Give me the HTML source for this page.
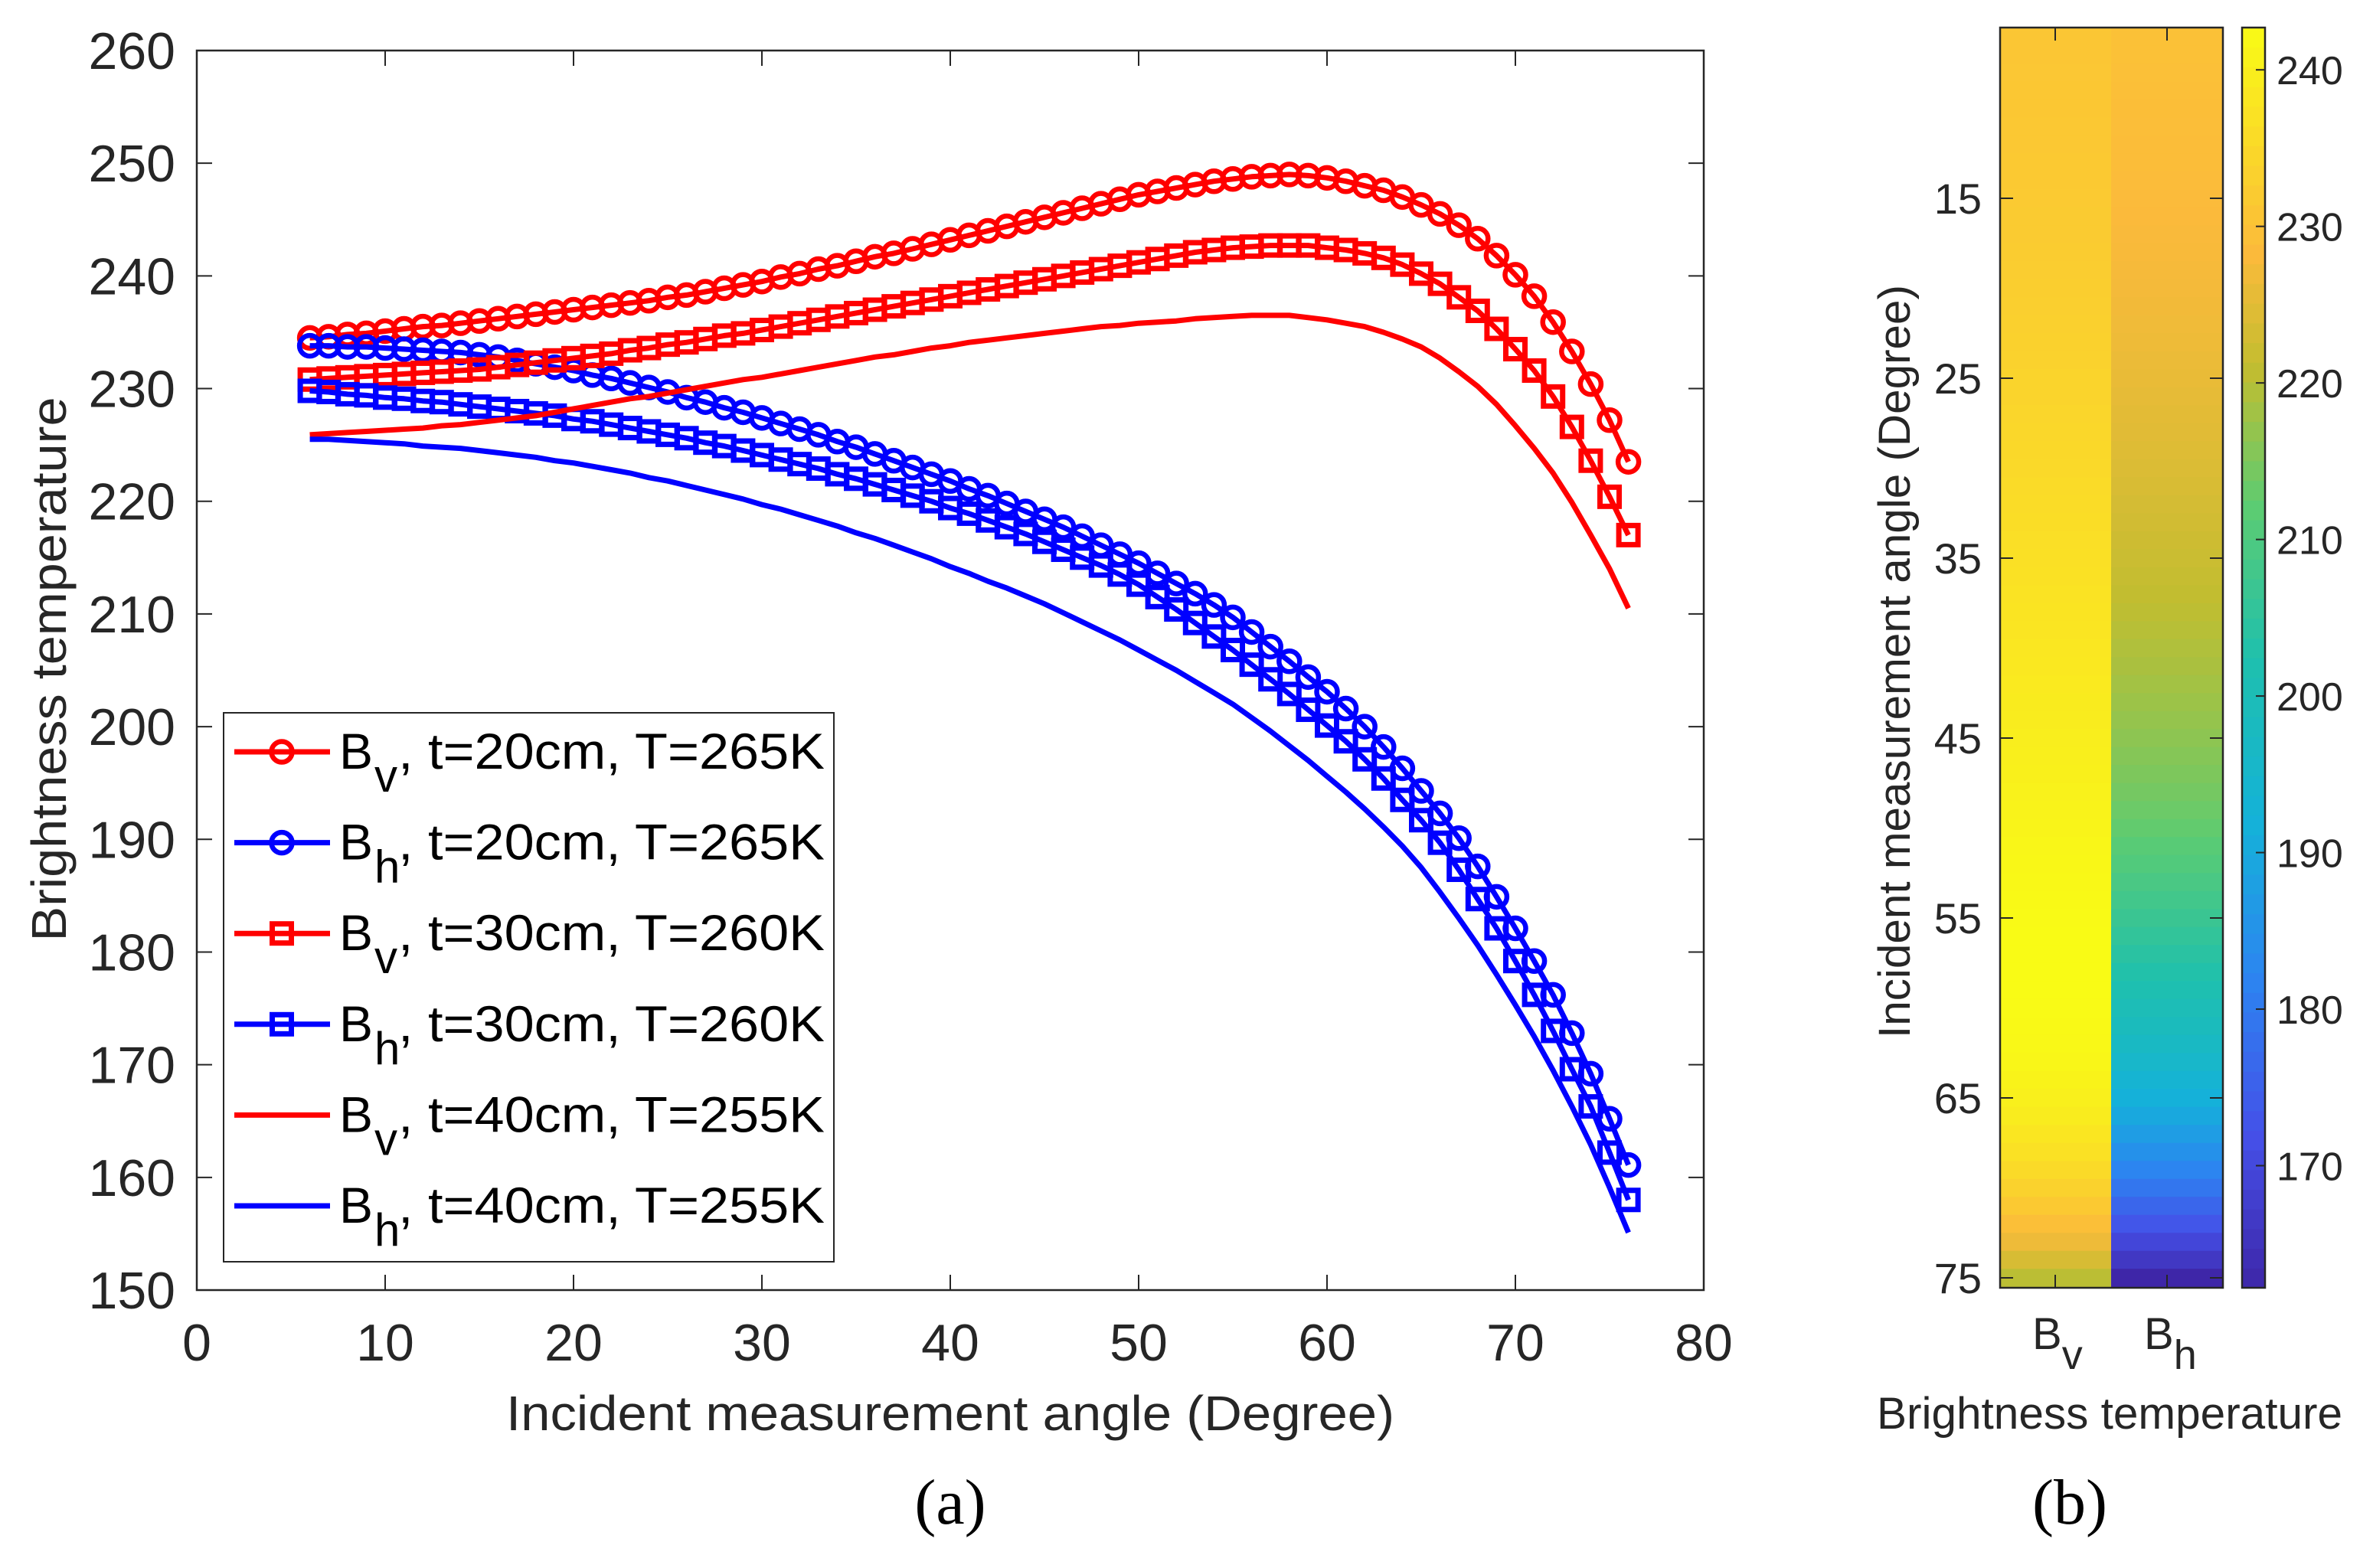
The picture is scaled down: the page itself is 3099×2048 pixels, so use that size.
<!DOCTYPE html>
<html><head><meta charset="utf-8"><style>
html,body{margin:0;padding:0;background:#fff;}
svg{display:block;font-family:"Liberation Sans",Arial,sans-serif;}
</style></head><body>
<svg id="fig" width="3099" height="2048" viewBox="0 0 3099 2048" xmlns="http://www.w3.org/2000/svg">
<rect x="0" y="0" width="3099" height="2048" fill="#fff"/>
<g id="plotA"></g>
<g id="plotB"></g>
</svg>
<script>
const angles = [];
for (let a = 6; a <= 76; a++) angles.push(a);
const bv20 = [234.5,234.6,234.8,234.9,235.1,235.3,235.5,235.6,235.8,236.0,236.2,236.4,236.6,236.8,237.0,237.2,237.4,237.6,237.8,238.1,238.3,238.6,238.9,239.2,239.5,239.9,240.2,240.6,240.9,241.3,241.7,242.0,242.4,242.8,243.2,243.6,244.0,244.4,244.8,245.2,245.6,246.0,246.4,246.8,247.2,247.5,247.8,248.1,248.4,248.6,248.8,248.9,249.0,248.9,248.7,248.4,248.0,247.6,247.0,246.3,245.5,244.5,243.3,241.8,240.1,238.2,235.9,233.3,230.4,227.2,223.5];
const bh20 = [233.8,233.8,233.7,233.7,233.6,233.5,233.4,233.3,233.2,233.0,232.8,232.5,232.2,231.9,231.6,231.2,230.9,230.5,230.1,229.7,229.2,228.8,228.3,227.9,227.4,226.9,226.4,225.9,225.3,224.8,224.2,223.6,223.0,222.4,221.8,221.1,220.5,219.8,219.1,218.4,217.7,216.9,216.1,215.3,214.5,213.6,212.7,211.8,210.8,209.7,208.4,207.1,205.8,204.4,203.1,201.6,200.0,198.2,196.3,194.3,192.3,190.1,187.6,184.9,182.1,179.2,176.2,172.8,169.2,165.2,161.1];
const bv30 = [230.8,230.9,231.0,231.1,231.2,231.3,231.4,231.5,231.6,231.7,231.9,232.1,232.3,232.5,232.7,232.9,233.1,233.4,233.6,233.9,234.1,234.4,234.7,234.9,235.2,235.5,235.8,236.1,236.4,236.7,237.0,237.3,237.6,237.9,238.2,238.5,238.8,239.1,239.4,239.7,240.0,240.3,240.6,240.9,241.2,241.5,241.8,242.1,242.3,242.5,242.6,242.7,242.7,242.7,242.5,242.3,242.0,241.6,241.0,240.2,239.3,238.1,236.9,235.3,233.5,231.6,229.3,226.6,223.6,220.4,217.0];
const bh30 = [229.8,229.7,229.5,229.4,229.2,229.1,228.9,228.8,228.6,228.4,228.2,228.0,227.8,227.6,227.3,227.1,226.8,226.5,226.2,225.9,225.6,225.2,224.9,224.5,224.1,223.7,223.3,222.9,222.4,222.0,221.5,221.0,220.5,220.0,219.4,218.9,218.3,217.7,217.1,216.4,215.7,215.0,214.3,213.5,212.6,211.5,210.4,209.2,208.0,206.8,205.5,204.2,202.9,201.5,200.1,198.7,197.1,195.4,193.5,191.7,189.7,187.3,184.7,182.1,179.2,176.2,173.0,169.6,166.3,162.2,158.0];
const bv40 = [225.9,226.0,226.1,226.2,226.3,226.4,226.5,226.7,226.8,227.0,227.2,227.4,227.6,227.9,228.2,228.5,228.8,229.1,229.3,229.6,229.9,230.2,230.5,230.8,231.0,231.3,231.6,231.9,232.2,232.5,232.8,233.0,233.3,233.6,233.8,234.1,234.3,234.5,234.7,234.9,235.1,235.3,235.5,235.6,235.8,235.9,236.0,236.2,236.3,236.4,236.5,236.5,236.5,236.3,236.1,235.8,235.5,235.0,234.4,233.7,232.7,231.5,230.2,228.6,226.7,224.7,222.5,219.9,217.0,214.0,210.5];
const bh40 = [225.5,225.5,225.4,225.3,225.2,225.1,224.9,224.8,224.7,224.5,224.3,224.1,223.9,223.6,223.4,223.1,222.8,222.5,222.1,221.8,221.4,221.0,220.6,220.2,219.7,219.3,218.8,218.3,217.8,217.2,216.7,216.1,215.5,214.9,214.2,213.6,212.9,212.3,211.6,210.9,210.1,209.3,208.5,207.7,206.8,205.9,205.0,204.0,203.0,202.0,200.8,199.6,198.3,197.0,195.6,194.2,192.7,191.1,189.4,187.5,185.3,183.0,180.6,178.0,175.3,172.5,169.5,166.3,162.9,159.1,155.1];
const xTicks = [0,10,20,30,40,50,60,70,80];
const yTicks = [150,160,170,180,190,200,210,220,230,240,250,260];
const heatAngleTicks = [15,25,35,45,55,65,75];
const cbTicks = [170,180,190,200,210,220,230,240];
const legendLabels = [", t=20cm, T=265K", ", t=20cm, T=265K", ", t=30cm, T=260K", ", t=30cm, T=260K", ", t=40cm, T=255K", ", t=40cm, T=255K"];
const legendSubs = ["v","h","v","h","v","h"];

const NS = "http://www.w3.org/2000/svg";
function mk(tag, attrs, parent) {
  const e = document.createElementNS(NS, tag);
  for (const k in attrs) e.setAttribute(k, attrs[k]);
  parent.appendChild(e);
  return e;
}
const A = document.getElementById('plotA');
const B = document.getElementById('plotB');
const L = 257, R = 2225, T = 66, Bt = 1685;
const xS = v => L + (v - 0) / 80 * (R - L);
const yS = v => Bt - (v - 150) / 110 * (Bt - T);
const AX = "#262626";

xTicks.forEach(v => {
  const x = xS(v);
  let t = mk('line', {x1:x, y1:Bt, x2:x, y2:Bt-20, stroke:AX, 'stroke-width':2}, A);
  
  
  let t2 = mk('line', {x1:x, y1:T, x2:x, y2:T+20, stroke:AX, 'stroke-width':2}, A);
  
  
  let lb = mk('text', {x:x, y:1777, 'font-size':68, 'text-anchor':'middle', fill:'#262626'}, A);
  lb.textContent = v;
  
  
});
yTicks.forEach(v => {
  const y = yS(v);
  let t = mk('line', {x1:L, y1:y, x2:L+20, y2:y, stroke:AX, 'stroke-width':2}, A);
  
  
  let t2 = mk('line', {x1:R, y1:y, x2:R-20, y2:y, stroke:AX, 'stroke-width':2}, A);
  
  
  let lb = mk('text', {x:229, y:y+24, 'font-size':68, 'text-anchor':'end', fill:'#262626'}, A);
  lb.textContent = v;
  
  
});
let box = mk('rect', {x:L, y:T, width:R-L, height:Bt-T, fill:'none', stroke:AX, 'stroke-width':2.5}, A);



const series = [
  {d:bv20, c:'#ff0000', m:'o', name:'series-bv-t20'},
  {d:bh20, c:'#0000ff', m:'o', name:'series-bh-t20'},
  {d:bv30, c:'#ff0000', m:'s', name:'series-bv-t30'},
  {d:bh30, c:'#0000ff', m:'s', name:'series-bh-t30'},
  {d:bv40, c:'#ff0000', m:'', name:'series-bv-t40'},
  {d:bh40, c:'#0000ff', m:'', name:'series-bh-t40'}
];
function marker(g, type, x, y, c) {
  if (type === 'o') {
    let m = mk('circle', {cx:x, cy:y, r:13.5, fill:'none', stroke:c, 'stroke-width':6.5}, g);
    
    
  } else if (type === 's') {
    let m = mk('rect', {x:x-12.5, y:y-12.5, width:25, height:25, fill:'none', stroke:c, 'stroke-width':7}, g);
    
    
  }
}
series.forEach(s => {
  const g = mk('g', {}, A);
  
  
  const pts = s.d.map((v, i) => xS(angles[i]).toFixed(1) + ',' + yS(v).toFixed(1)).join(' ');
  let pl = mk('polyline', {points:pts, fill:'none', stroke:s.c, 'stroke-width':7, 'stroke-linejoin':'round'}, g);
  
  
  if (s.m) s.d.forEach((v, i) => marker(g, s.m, xS(angles[i]), yS(v), s.c));
});

const lg = mk('g', {}, A);


let lbox = mk('rect', {x:292, y:931, width:797, height:717, fill:'#fff', stroke:AX, 'stroke-width':2}, lg);


series.forEach((s, i) => {
  const y = 982 + i * 118.6;
  const eg = mk('g', {}, lg);
  
  
  mk('line', {x1:306, y1:y, x2:431, y2:y, stroke:s.c, 'stroke-width':7}, eg);
  marker(eg, s.m, 368, y, s.c);
  let t = mk('text', {x:443, y:y+22, 'font-size':66, fill:'#000'}, eg);
  
  
  const t1 = mk('tspan', {}, t); t1.textContent = 'B';
  const t2 = mk('tspan', {x:489, dy:30, 'font-size':60}, t); t2.textContent = legendSubs[i];
  const t3 = mk('tspan', {x:520, dy:-30, textLength:557, lengthAdjust:'spacingAndGlyphs'}, t); t3.textContent = legendLabels[i];
});

let xt = mk('text', {x:1241, y:1868, 'font-size':64, 'text-anchor':'middle', fill:'#262626', textLength:1160, lengthAdjust:'spacingAndGlyphs'}, A);
xt.textContent = 'Incident measurement angle (Degree)';


let yt = mk('text', {x:0, y:0, 'font-size':64, 'text-anchor':'middle', fill:'#262626', textLength:711, lengthAdjust:'spacingAndGlyphs', transform:'translate(86,874) rotate(-90)'}, A);
yt.textContent = 'Brightness temperature';


let pa = mk('text', {x:1241, y:1990, 'font-size':84, 'text-anchor':'middle', fill:'#000', 'font-family':'Liberation Serif, serif'}, A);
pa.textContent = '(a)';



const HL = 2612, HM = 2757, HR = 2903, HT = 36, HB = 1682;
const hY = a => 1669 + (a - 75) * 23.5;
const cMin = 162.2, cMax = 242.7;
const cStops = [0, 0.12, 0.25, 0.37, 0.5, 0.62, 0.73, 0.82, 1];
const cCols = [[0x3e,0x26,0xa8],[0x45,0x50,0xe8],[0x2b,0x86,0xf0],[0x14,0xb2,0xd8],[0x1f,0xc0,0xad],[0x5c,0xcc,0x72],[0xc2,0xbd,0x30],[0xfb,0xba,0x3b],[0xf9,0xfb,0x15]];
function cmap(v) {
  const t = Math.max(0, Math.min(1, (v - cMin) / (cMax - cMin)));
  let i = 0;
  while (i < cStops.length - 2 && t > cStops[i+1]) i++;
  const f = (t - cStops[i]) / (cStops[i+1] - cStops[i]);
  const a = cCols[i], b = cCols[i+1];
  return 'rgb(' + [0,1,2].map(k => Math.round(a[k] + (b[k]-a[k]) * f)).join(',') + ')';
}
const hg = mk('g', {}, B);


for (let i = 0; i < angles.length; i++) {
  const a = angles[i];
  if (a > 75) continue;
  const y0 = hY(a - 0.5), y1 = hY(a + 0.5);
  let c1 = mk('rect', {x:HL, y:y0, width:HM-HL, height:y1-y0+0.6, fill:cmap(bv30[i])}, hg);
  
  
  let c2 = mk('rect', {x:HM, y:y0, width:HR-HM, height:y1-y0+0.6, fill:cmap(bh30[i])}, hg);
  
  
}
heatAngleTicks.forEach(a => {
  const y = hY(a);
  mk('line', {x1:HL, y1:y, x2:HL+17, y2:y, stroke:AX, 'stroke-width':2}, B);
  mk('line', {x1:HR, y1:y, x2:HR-17, y2:y, stroke:AX, 'stroke-width':2}, B);
  let lb = mk('text', {x:2588, y:y+20, 'font-size':56, 'text-anchor':'end', fill:'#262626'}, B);
  lb.textContent = a;
  
  
});
[[2684,'v'],[2830,'h']].forEach(([x, s]) => {
  mk('line', {x1:x, y1:HT, x2:x, y2:HT+17, stroke:AX, 'stroke-width':2}, B);
  mk('line', {x1:x, y1:HB, x2:x, y2:HB-17, stroke:AX, 'stroke-width':2}, B);
  let t = mk('text', {x:x-30, y:1762, 'font-size':58, fill:'#262626'}, B);
  
  
  const a1 = mk('tspan', {}, t); a1.textContent = 'B';
  const a2 = mk('tspan', {dy:26, 'font-size':54}, t); a2.textContent = s;
});
let hb = mk('rect', {x:HL, y:HT, width:HR-HL, height:HB-HT, fill:'none', stroke:AX, 'stroke-width':2.5}, B);



const CL = 2928, CR = 2958;
const cY = v => HB - (v - cMin) / (cMax - cMin) * (HB - HT);
const cg = mk('g', {}, B);


for (let k = 0; k < 64; k++) {
  const v0 = cMin + (cMax - cMin) * k / 64, v1 = cMin + (cMax - cMin) * (k + 1) / 64;
  mk('rect', {x:CL, y:cY(v1), width:CR-CL, height:cY(v0)-cY(v1)+0.6, fill:cmap((v0+v1)/2)}, cg);
}
mk('rect', {x:CL, y:HT, width:CR-CL, height:HB-HT, fill:'none', stroke:AX, 'stroke-width':2.5}, cg);
cbTicks.forEach(v => {
  const y = cY(v);
  mk('line', {x1:CR, y1:y, x2:CR-12, y2:y, stroke:AX, 'stroke-width':2}, cg);
  let lb = mk('text', {x:2973, y:y+19, 'font-size':52, fill:'#262626'}, cg);
  lb.textContent = v;
  
  
});

let bx = mk('text', {x:2755, y:1866, 'font-size':58, 'text-anchor':'middle', fill:'#262626', textLength:608, lengthAdjust:'spacingAndGlyphs'}, B);
bx.textContent = 'Brightness temperature';


let by = mk('text', {x:0, y:0, 'font-size':58, 'text-anchor':'middle', fill:'#262626', textLength:984, lengthAdjust:'spacingAndGlyphs', transform:'translate(2494,864) rotate(-90)'}, B);
by.textContent = 'Incident measurement angle (Degree)';


let pb = mk('text', {x:2703, y:1990, 'font-size':84, 'text-anchor':'middle', fill:'#000', 'font-family':'Liberation Serif, serif'}, B);
pb.textContent = '(b)';


</script>
</body></html>
